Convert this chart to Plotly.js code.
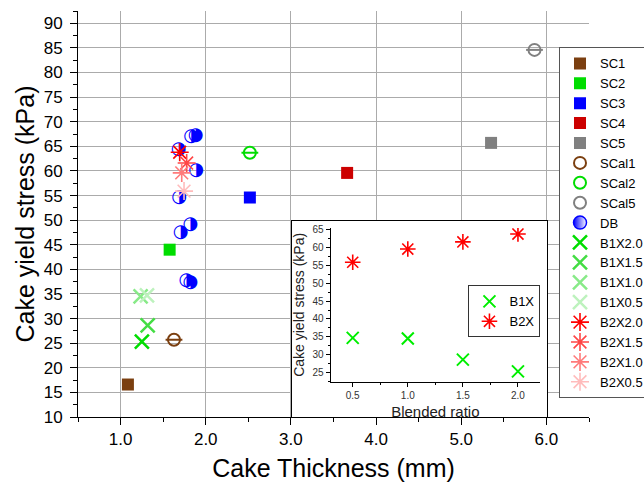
<!DOCTYPE html>
<html><head><meta charset="utf-8">
<script src="https://cdn.plot.ly/plotly-3.0.1.min.js"></script>
<style>html,body{margin:0;padding:0;background:#fff}#chart{width:644px;height:482px}</style>
</head><body><div id="chart"></div>
<script>
// ---- data ----
const sc1X = [1.086], sc1Y = [16.6];
const sc2X = [1.576], sc2Y = [44.0];
const sc3X = [2.518], sc3Y = [54.6];
const sc4X = [3.66],  sc4Y = [59.6];
const sc5X = [5.35],  sc5Y = [65.7];
const scal1X = [1.627], scal1Y = [25.7];
const scal2X = [2.518], scal2Y = [63.7];
const scal5X = [5.86],  scal5Y = [84.6];
const dbX = [1.682, 1.827, 1.882, 1.886, 1.686, 1.82, 1.706, 1.773, 1.82];
const dbY = [64.3, 67.1, 67.3, 60.0, 54.6, 49.1, 47.4, 37.8, 37.3];
const b1x20X = [1.25],  b1x20Y = [25.3];
const b1x15X = [1.318], b1x15Y = [28.6];
const b1x10X = [1.235], b1x10Y = [34.5];
const b1x05X = [1.31],  b1x05Y = [34.7];
const b2x20X = [1.694], b2x20Y = [63.8];
const b2x15X = [1.776], b2x15Y = [61.6];
const b2x10X = [1.718], b2x10Y = [59.6];
const b2x05X = [1.745], b2x05Y = [55.9];
// inset
const ratio = [0.5, 1.0, 1.5, 2.0];
const insetB1X = [34.7, 34.5, 28.6, 25.3];
const insetB2X = [55.9, 59.6, 61.6, 63.8];

const FONT = 'Arial, "Liberation Sans", sans-serif';

function sq(name, x, y, c) {
  return {type:'scatter', mode:'markers', name, x, y,
    marker:{symbol:'square', size:12, color:c, line:{width:0}}};
}
function theta(name, x, y, c) {
  return [
    {type:'scatter', mode:'markers', name, x, y, legendgroup:name,
      marker:{symbol:'circle-open', size:12, color:c, line:{color:c, width:2}}},
    {type:'scatter', mode:'markers', name, x, y, legendgroup:name, showlegend:false,
      marker:{symbol:'line-ew-open', size:12, color:c, line:{color:c, width:2}}}
  ];
}
function cross(name, x, y, c) {
  return {type:'scatter', mode:'markers', name, x, y,
    marker:{symbol:'x-thin-open', size:14, color:c, line:{color:c, width:2.5}}};
}
function star(name, x, y, c) {
  return {type:'scatter', mode:'markers', name, x, y,
    marker:{symbol:'asterisk-open', size:15, color:c, line:{color:c, width:1.6}}};
}

const traces = [
  sq('SC1', sc1X, sc1Y, '#7b3f10'),
  sq('SC2', sc2X, sc2Y, '#00dd00'),
  sq('SC3', sc3X, sc3Y, '#0000ff'),
  sq('SC4', sc4X, sc4Y, '#cc0000'),
  sq('SC5', sc5X, sc5Y, '#808080'),
  ...theta('SCal1', scal1X, scal1Y, '#7b3f10'),
  ...theta('SCal2', scal2X, scal2Y, '#00dd00'),
  ...theta('SCal5', scal5X, scal5Y, '#808080'),
  {type:'scatter', mode:'markers', name:'DB', x:[null], y:[null], legendgroup:'DB',
    marker:{symbol:'circle', size:13, color:'#0000ff', gradient:{type:'horizontal', color:'#ffffff'},
      line:{color:'#0000ff', width:1.5}}},
  {type:'scatter', mode:'text', name:'DB', x:dbX, y:dbY, legendgroup:'DB', showlegend:false,
    text:dbX.map(()=> '\u25D1'), textposition:'middle center',
    textfont:{family:'DejaVu Sans', size:18, color:'#0000ff'}},
  cross('B1X2.0', b1x20X, b1x20Y, '#00dd00'),
  cross('B1X1.5', b1x15X, b1x15Y, '#44dd44'),
  cross('B1X1.0', b1x10X, b1x10Y, '#88ea88'),
  cross('B1X0.5', b1x05X, b1x05Y, '#bdf2bd'),
  star('B2X2.0', b2x20X, b2x20Y, '#ff0000'),
  star('B2X1.5', b2x15X, b2x15Y, '#ff4646'),
  star('B2X1.0', b2x10X, b2x10Y, '#ff7a7a'),
  star('B2X0.5', b2x05X, b2x05Y, '#ffbcbc'),
  // empty trace that makes the white inset box subplot exist
  {type:'scatter', mode:'markers', x:[null], y:[null], xaxis:'x2', yaxis:'y2', showlegend:false, hoverinfo:'skip'},
  // inset
  {type:'scatter', mode:'markers', name:'B1X', x:ratio, y:insetB1X, xaxis:'x3', yaxis:'y3', legend:'legend2',
    marker:{symbol:'x-thin-open', size:12, color:'#00ee00', line:{color:'#00ee00', width:2}}},
  {type:'scatter', mode:'markers', name:'B2X', x:ratio, y:insetB2X, xaxis:'x3', yaxis:'y3', legend:'legend2',
    marker:{symbol:'asterisk-open', size:13, color:'#ff0000', line:{color:'#ff0000', width:1.6}}}
];

const layout = {
  width:644, height:482,
  margin:{l:78, r:55, t:11, b:65, autoexpand:false},
  paper_bgcolor:'#ffffff', plot_bgcolor:'#ffffff',
  font:{family:FONT, color:'#000'},
  showlegend:true,
  xaxis:{domain:[0,1], range:[0.5,6.5], tick0:0, dtick:1, tickformat:'.1f',
    ticks:'outside', ticklen:7, tickcolor:'#000', tickwidth:1,
    showline:true, linecolor:'#000', linewidth:1,
    showgrid:true, gridcolor:'#ababab', gridwidth:1, zeroline:false,
    minor:{dtick:0.5, ticks:'outside', ticklen:4, tickcolor:'#000', showgrid:false},
    tickfont:{size:17, color:'#000'},
    title:{text:'Cake Thickness (mm)', font:{size:25, color:'#000'}, standoff:26}},
  yaxis:{domain:[0,1], range:[10,92.5], tick0:0, dtick:5,
    ticks:'outside', ticklen:7, tickcolor:'#000', tickwidth:1, ticklabelstandoff:4,
    showline:true, linecolor:'#000', linewidth:1,
    showgrid:true, gridcolor:'#ababab', gridwidth:1, zeroline:false,
    minor:{dtick:2.5, ticks:'outside', ticklen:4, tickcolor:'#000', showgrid:false},
    tickfont:{size:17, color:'#000'},
    title:{text:'Cake yield stress (kPa)', font:{size:25, color:'#000'}, standoff:1}},
  // inset white box
  xaxis2:{domain:[0.4188,0.9178], anchor:'y2', range:[0,1], fixedrange:true,
    showgrid:false, zeroline:false, showticklabels:false, ticks:'',
    showline:true, mirror:true, linecolor:'#000', linewidth:1},
  yaxis2:{domain:[0,0.4828], anchor:'x2', range:[0,1], fixedrange:true,
    showgrid:false, zeroline:false, showticklabels:false, ticks:'',
    showline:true, mirror:true, linecolor:'#000', linewidth:1},
  // inset data
  xaxis3:{domain:[0.4945,0.9041], anchor:'y3', range:[0.3,2.2], tickvals:[0.5,1,1.5,2], tickformat:'.1f',
    ticks:'outside', ticklen:4, tickcolor:'#000', showline:true, linecolor:'#000', linewidth:1,
    showgrid:false, zeroline:false,
    minor:{tickvals:[0.75,1.25,1.75], ticks:'outside', ticklen:2, tickcolor:'#000'},
    tickfont:{size:10, color:'#333'},
    title:{text:'Blended ratio', font:{size:15, color:'#222'}, standoff:6}},
  yaxis3:{domain:[0.0869,0.4655], anchor:'x3', range:[22.4,65.5], tick0:0, dtick:5,
    ticks:'outside', ticklen:4, tickcolor:'#000', showline:true, linecolor:'#000', linewidth:1,
    showgrid:false, zeroline:false,
    minor:{dtick:2.5, ticks:'outside', ticklen:2, tickcolor:'#000'},
    tickfont:{size:10, color:'#333'},
    title:{text:'Cake yield stress (kPa)', font:{size:14, color:'#222'}, standoff:4}},
  legend:{x:0.9413, xanchor:'left', y:0.478, yanchor:'middle',
    bgcolor:'#ffffff', bordercolor:'#555', borderwidth:1,
    font:{size:13, color:'#000', family:FONT}, tracegroupgap:0},
  legend2:{x:0.905, xanchor:'right', y:0.26, yanchor:'middle',
    bgcolor:'#ffffff', bordercolor:'#333', borderwidth:1,
    font:{size:13, color:'#000', family:FONT}}
};

Plotly.newPlot('chart', traces, layout, {displayModeBar:false, staticPlot:true});
</script>
</body></html>
